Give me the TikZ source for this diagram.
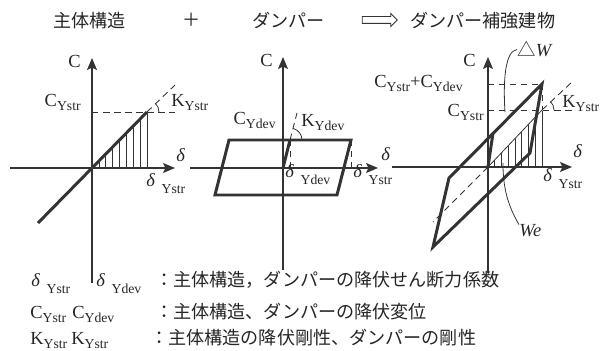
\documentclass[tikz,border=0pt]{standalone}
\usepackage{fontspec}
\setmainfont{Liberation Serif}
\newfontfamily\jpf{Noto Sans CJK JP}
\usetikzlibrary{arrows.meta,shapes.arrows}

\newcommand{\ysub}[2]{#1\raisebox{-0.45ex}{\fontsize{7.8}{9}\selectfont #2}}
\newcommand{\dsub}[1]{\textit{δ}\hspace{0.35em}\raisebox{-0.75ex}{\fontsize{7.8}{9}\selectfont #1}}

\begin{document}
\begin{tikzpicture}[
  x=0.2mm, y=0.2mm,
  font=\fontsize{10.5}{12}\selectfont,
  ax/.style={draw=black!80, line width=0.7pt,
             -{Stealth[length=2.4mm,width=2mm,inset=0.5mm]}},
  bold/.style={draw=black!80, line width=1.7pt, line join=miter},
  fine/.style={draw=black!80, line width=0.45pt},
  guide/.style={draw=black!80, line width=0.5pt, dash pattern=on 1.3mm off 0.9mm},
  lbl/.style={inner sep=0pt, text=black!85},
  jp/.style={lbl, font=\jpf\fontsize{10.3}{12}\selectfont},
]
\useasboundingbox (0,0) rectangle (612,351);
% Title row
\node[jp, anchor=base west] (main) at (53,323) {主体構造};
\node[jp] (plus) at (192,331) {＋};
\node[jp, anchor=base west] (damp) at (252,323) {ダンパー};
\node[single arrow, draw=black!80, line width=0.5pt, minimum height=7mm,
      single arrow head extend=0.6mm, inner sep=0.6mm] (imp) at (378,331) {};
\node[jp, anchor=base west] (whole) at (410,323) {ダンパー補強建物};

% Panel 1: main structure
\coordinate (o1) at (92,183);
\coordinate (y1) at (147,239);
\coordinate (l1) at (38,128);
\coordinate (k1) at (175,266);
\coordinate (h1a) at (10,183);  \coordinate (h1b) at (175,183);
\coordinate (v1a) at (92,68);   \coordinate (v1b) at (92,293);
\foreach \k in {1,...,8}
  \draw[fine] ({92+6.9*\k},183) -- ({92+6.9*\k},{183+7.03*\k});
\draw[guide] (o1 |- y1) -- (h1b |- y1);
\draw[guide] (y1) -- (k1);
\draw[fine] ([shift={(0:2.4mm)}]y1) arc[start angle=0, end angle=45, radius=2.4mm];
\draw[bold] (l1) -- (y1);
\draw[ax] (h1a) -- (h1b);
\draw[ax] (v1a) -- (v1b);
\node[lbl, anchor=base east] (c1) at (81,283) {C};
\node[lbl, anchor=base east] (cy1) at (81,244) {\ysub{C}{Ystr}};
\node[lbl, anchor=base west] (ky1) at (171,244) {\ysub{K}{Ystr}};
\node[lbl, anchor=base west] (d1) at (176,189) {\textit{δ}};
\node[lbl, anchor=base west] (dy1) at (146,164) {\dsub{Ystr}};

% Panel 2: damper
\coordinate (o2) at (283,183);
\coordinate (a2) at (215,156);
\coordinate (b2) at (337,156);
\coordinate (c2) at (351,211);
\coordinate (d2) at (229,211);
\coordinate (e2) at (290,211);
\coordinate (k2) at (297,238);
\coordinate (h2a) at (190,183); \coordinate (h2b) at (378,183);
\coordinate (v2a) at (283,81);  \coordinate (v2b) at (283,294);
\draw[guide] (e2) -- (e2 |- o2);
\draw[guide] (e2) -- (k2);
\draw[guide] (c2) -- (c2 |- o2);
\draw[fine] ([shift={(0:2.4mm)}]e2) arc[start angle=0, end angle=75, radius=2.4mm];
\draw[bold] (a2) -- (b2) -- (c2) -- (d2) -- cycle;
\draw[bold] (o2) -- (e2);
\draw[ax] (h2a) -- (h2b);
\draw[ax] (v2a) -- (v2b);
\node[lbl, anchor=base east] (c2l) at (273,284) {C};
\node[lbl, anchor=base east] (cy2) at (276,226) {\ysub{C}{Ydev}};
\node[lbl, anchor=base west] (ky2) at (301,224) {\ysub{K}{Ydev}};
\node[lbl, anchor=base west] (d2l) at (381,190) {\textit{δ}};
\node[lbl, anchor=base west] (dy2) at (285,173) {\dsub{Ydev}};
\node[lbl, anchor=base west] (ds2) at (353,173) {\dsub{Ystr}};

% Panel 3: building with damper
\coordinate (o3) at (488,184);
\coordinate (p1) at (542,267);
\coordinate (p2) at (449,173);
\coordinate (p3) at (433,104);
\coordinate (p4) at (530,198);
\coordinate (q3) at (493,218);
\coordinate (s3) at (542,241);
\coordinate (k3) at (572,269);
\coordinate (n3) at (433,129);
\coordinate (h3a) at (392,184); \coordinate (h3b) at (572,184);
\coordinate (v3a) at (488,78);  \coordinate (v3b) at (488,294);
\foreach \k in {1,...,8}
  \draw[fine] ({488+6.75*\k},184) -- ({488+6.75*\k},{184+7.0*\k});
\draw[fine] (o3) -- (s3);
\draw[guide] (o3) -- (n3);
\draw[guide] (s3) -- (k3);
\draw[guide] (p1) -- (s3);
\draw[guide] (o3 |- p1) -- (p1);
\draw[guide] (o3 |- s3) -- (h3b |- s3);
\draw[fine] ([shift={(0:2.4mm)}]s3) arc[start angle=0, end angle=45, radius=2.4mm];
\draw[bold] (p1) -- (p2) -- (p3) -- (p4) -- cycle;
\draw[bold] (o3) -- (q3);
\draw[ax] (h3a) -- (h3b);
\draw[ax] (v3a) -- (v3b);
\node[lbl, anchor=base east] (c3) at (476,284) {C};
\node[lbl, anchor=base east] (cs3) at (463,263) {\ysub{C}{Ystr}+\ysub{C}{Ydev}};
\node[lbl, anchor=base east] (cy3) at (484,234) {\ysub{C}{Ystr}};
\node[lbl, anchor=base west] (ky3) at (562,243) {\ysub{K}{Ystr}};
\node[lbl, anchor=base west] (d3) at (573,193) {\textit{δ}};
\node[lbl, anchor=base west] (dy3) at (543,169) {\dsub{Ystr}};
\node[lbl, anchor=base west] (dw) at (517,294) {{\jpf △}\textit{W}};
\node[lbl, anchor=base west] (we) at (519,114) {\textit{We}};
\coordinate (dwend) at (505,239);
\coordinate (weend) at (503,188);
\draw[fine] (dw.west) .. controls (505,300) and (503,270) .. (dwend);
\draw[fine] (we.north west) .. controls (505,150) and (503,170) .. (weend);

% Legend
\node[lbl, anchor=base west] (ld1) at (31,64) {\dsub{Ystr}};
\node[lbl, anchor=base west] (ld2) at (96,64) {\dsub{Ydev}};
\node[jp, anchor=base west] (lt1) at (155,64) {：主体構造，ダンパーの降伏せん断力係数};
\node[lbl, anchor=base west] (lc1) at (30,32) {\ysub{C}{Ystr}};
\node[lbl, anchor=base west] (lc2) at (72,32) {\ysub{C}{Ydev}};
\node[jp, anchor=base west] (lt2) at (155,32) {：主体構造、ダンパーの降伏変位};
\node[lbl, anchor=base west] (lk1) at (30,6) {\ysub{K}{Ystr}};
\node[lbl, anchor=base west] (lk2) at (71,6) {\ysub{K}{Ystr}};
\node[jp, anchor=base west] (lt3) at (150,6) {：主体構造の降伏剛性、ダンパーの剛性};
\end{tikzpicture}
\end{document}
